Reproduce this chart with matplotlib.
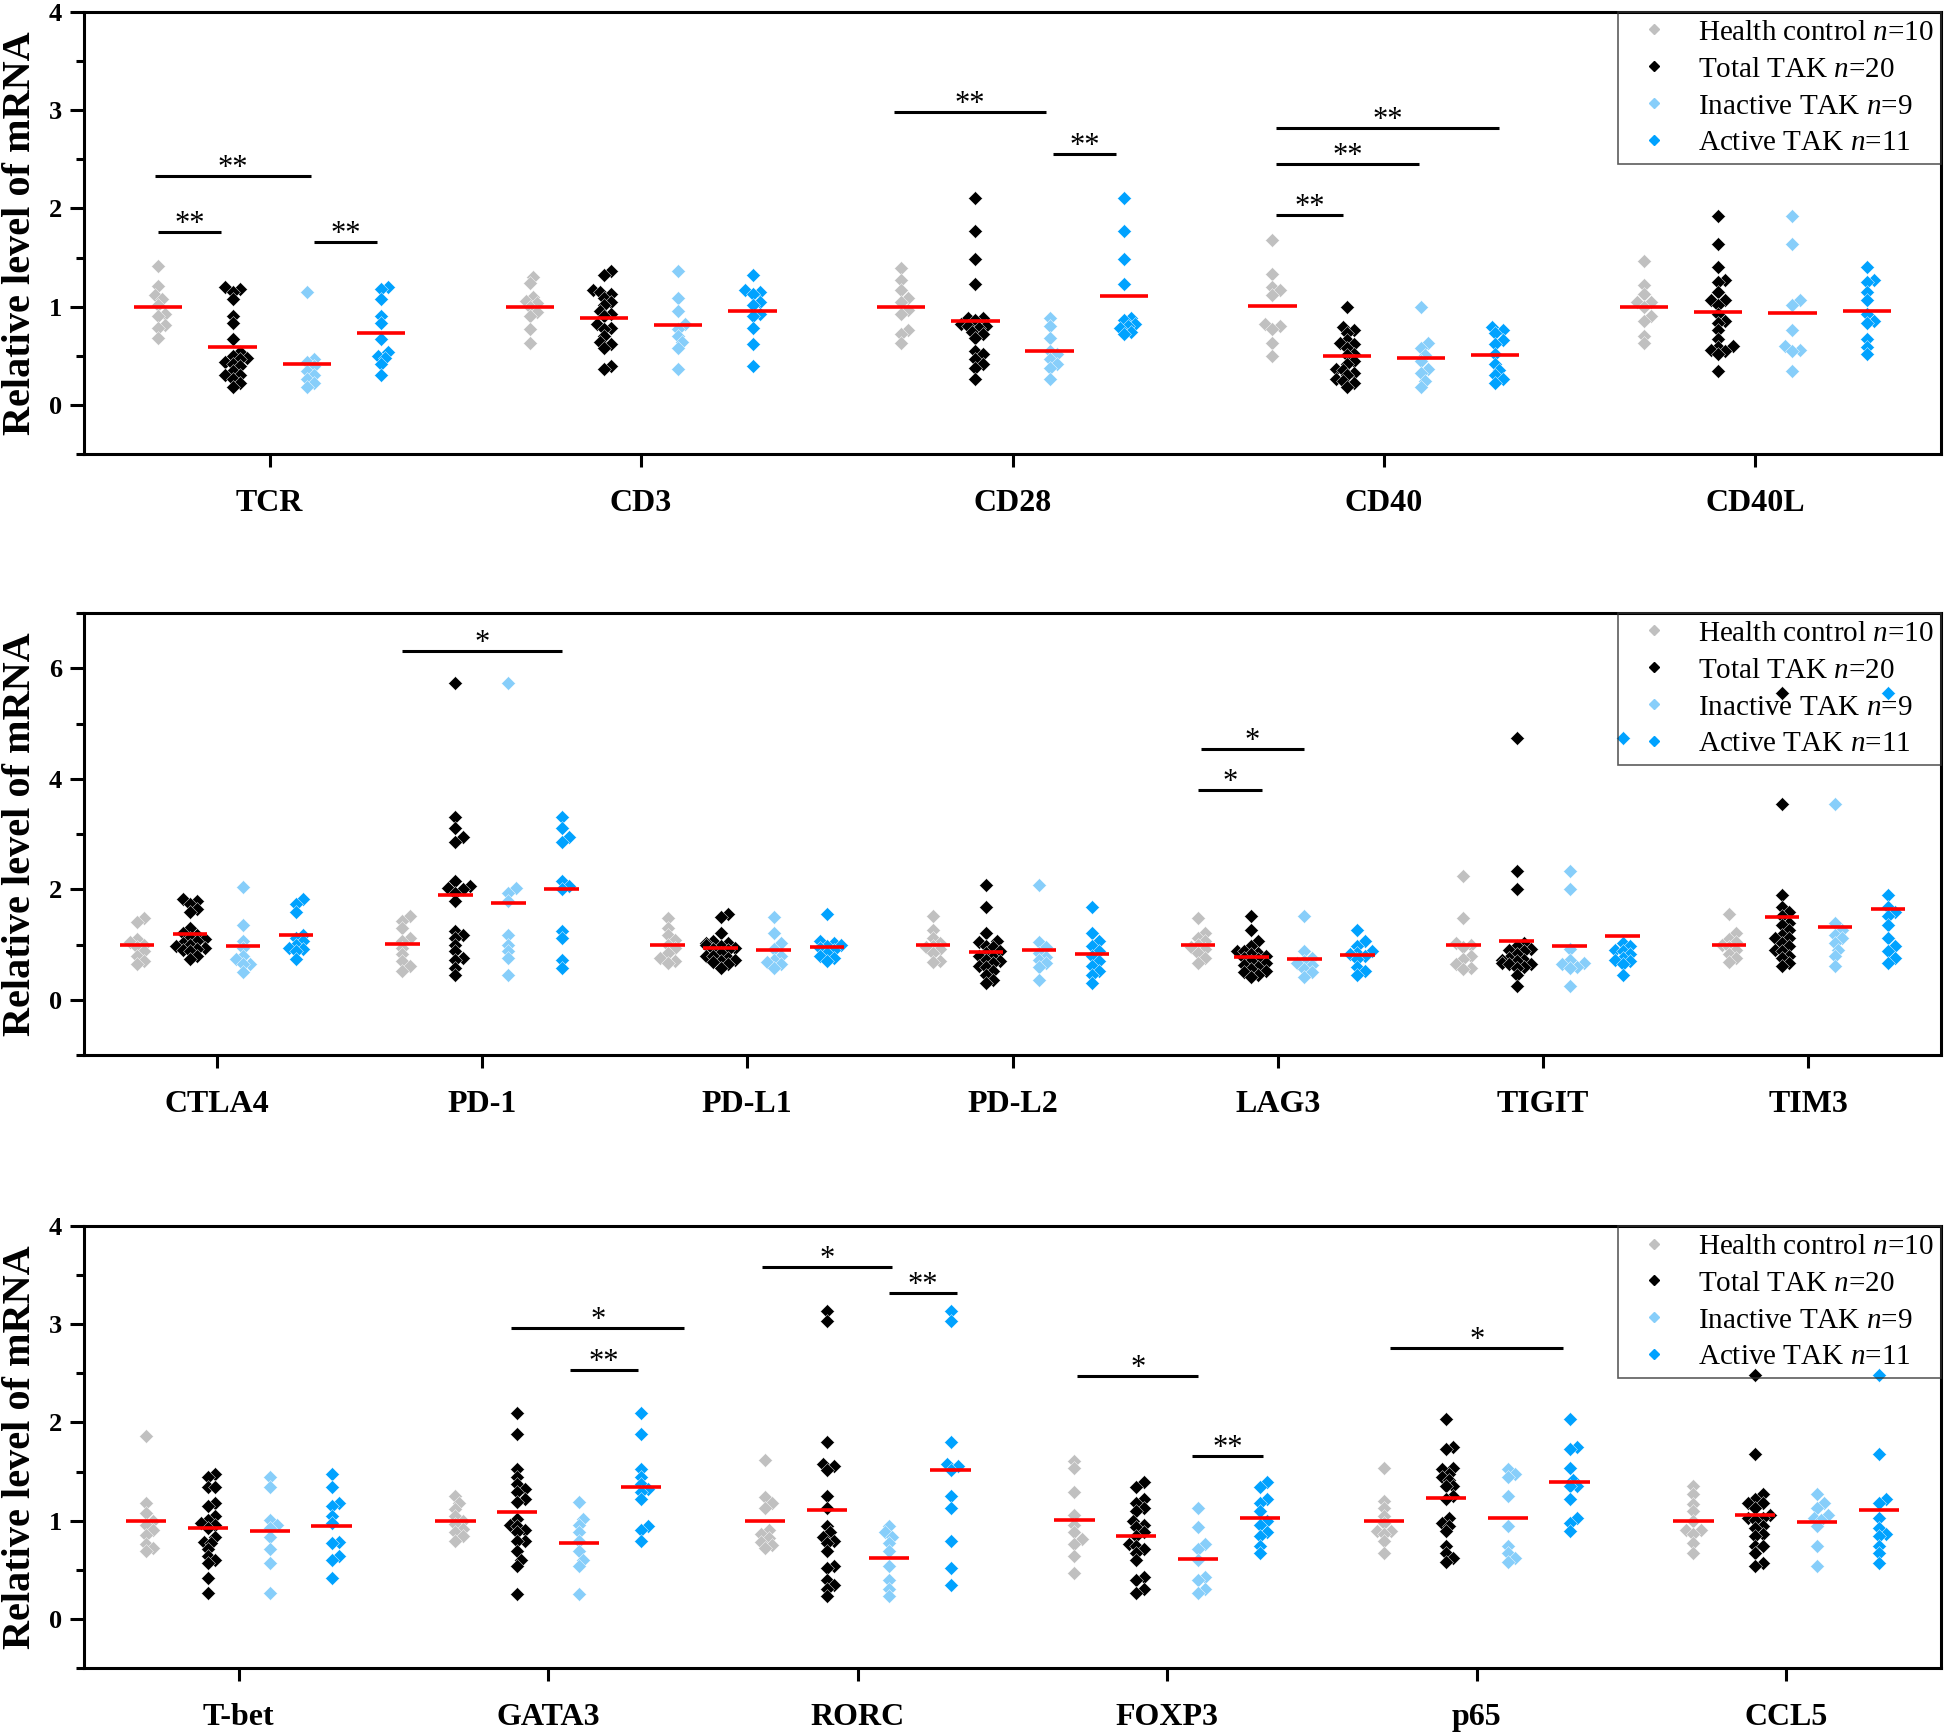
import numpy as np
import matplotlib
matplotlib.use('Agg')
import matplotlib.pyplot as plt
from matplotlib.ticker import MultipleLocator
from matplotlib.lines import Line2D

plt.rcParams['font.family'] = ['Liberation Serif', 'DejaVu Serif']
plt.rcParams['mathtext.fontset'] = 'custom'
plt.rcParams['mathtext.rm'] = 'Liberation Serif'
plt.rcParams['mathtext.it'] = 'Liberation Serif:italic'

# ---------------- data ----------------
group_names = ['Health control $n$=10', 'Total TAK $n$=20',
               'Inactive TAK $n$=9', 'Active TAK $n$=11']
group_colors = ['#c0c0c0', '#000000', '#87cefa', '#00a2ff']

# panel 1
genes1 = ['TCR', 'CD3', 'CD28', 'CD40', 'CD40L']
hc1 = [[1.41, 1.21, 1.12, 1.08, 1.02, 0.93, 0.90, 0.81, 0.78, 0.68],
       [1.30, 1.24, 1.10, 1.06, 1.04, 1.00, 0.95, 0.90, 0.77, 0.63],
       [1.39, 1.27, 1.17, 1.09, 1.05, 0.97, 0.93, 0.76, 0.72, 0.63],
       [1.68, 1.33, 1.20, 1.17, 1.12, 0.82, 0.80, 0.77, 0.63, 0.50],
       [1.47, 1.22, 1.13, 1.05, 1.05, 1.00, 0.90, 0.85, 0.70, 0.63]]
tot1 = [[1.20, 1.18, 1.15, 1.08, 0.90, 0.83, 0.67, 0.54, 0.50, 0.48,
         0.47, 0.44, 0.42, 0.40, 0.35, 0.30, 0.30, 0.26, 0.22, 0.18],
        [1.36, 1.32, 1.17, 1.15, 1.13, 1.09, 1.05, 1.02, 0.96, 0.93,
         0.90, 0.82, 0.78, 0.77, 0.70, 0.64, 0.62, 0.58, 0.40, 0.37],
        [2.11, 1.77, 1.49, 1.23, 0.88, 0.88, 0.86, 0.82, 0.80, 0.80,
         0.78, 0.74, 0.72, 0.68, 0.55, 0.52, 0.47, 0.42, 0.38, 0.26],
        [1.00, 0.79, 0.76, 0.73, 0.66, 0.63, 0.62, 0.58, 0.52, 0.51,
         0.45, 0.42, 0.37, 0.36, 0.32, 0.30, 0.26, 0.24, 0.22, 0.18],
        [1.92, 1.64, 1.40, 1.27, 1.25, 1.15, 1.07, 1.07, 1.02, 0.93,
         0.85, 0.83, 0.76, 0.67, 0.60, 0.59, 0.56, 0.55, 0.52, 0.34]]
ina1 = [[1.15, 0.47, 0.44, 0.40, 0.35, 0.30, 0.26, 0.22, 0.18],
        [1.36, 1.09, 0.96, 0.82, 0.77, 0.70, 0.64, 0.58, 0.37],
        [0.88, 0.80, 0.68, 0.55, 0.52, 0.47, 0.42, 0.38, 0.26],
        [1.00, 0.63, 0.58, 0.51, 0.45, 0.37, 0.32, 0.24, 0.18],
        [1.92, 1.64, 1.07, 1.02, 0.76, 0.60, 0.56, 0.55, 0.34]]
act1 = [[1.20, 1.18, 1.08, 0.90, 0.83, 0.67, 0.54, 0.50, 0.48, 0.42, 0.30],
        [1.32, 1.17, 1.15, 1.13, 1.05, 1.02, 0.93, 0.90, 0.78, 0.62, 0.40],
        [2.11, 1.77, 1.49, 1.23, 0.88, 0.86, 0.82, 0.80, 0.78, 0.74, 0.72],
        [0.79, 0.76, 0.73, 0.66, 0.62, 0.52, 0.42, 0.36, 0.30, 0.26, 0.22],
        [1.40, 1.27, 1.25, 1.15, 1.07, 0.93, 0.85, 0.83, 0.67, 0.59, 0.52]]
# (gene, x start, x end, height, label)
sig1 = [(0, -0.30, -0.13, 1.76, '**'), (0, -0.31, 0.11, 2.33, '**'),
        (0, 0.12, 0.29, 1.66, '**'), (2, -0.32, 0.09, 2.98, '**'),
        (2, 0.11, 0.28, 2.55, '**'), (3, -0.29, 0.31, 2.82, '**'),
        (3, -0.29, 0.095, 2.45, '**'), (3, -0.29, -0.11, 1.93, '**')]

# panel 2
genes2 = ['CTLA4', 'PD-1', 'PD-L1', 'PD-L2', 'LAG3', 'TIGIT', 'TIM3']
hc2 = [[1.48, 1.40, 1.10, 1.05, 1.00, 0.95, 0.88, 0.80, 0.70, 0.64],
       [1.52, 1.42, 1.30, 1.12, 1.06, 0.94, 0.82, 0.70, 0.61, 0.52],
       [1.48, 1.30, 1.18, 1.09, 1.00, 0.94, 0.85, 0.76, 0.70, 0.67],
       [1.52, 1.27, 1.12, 1.03, 0.97, 0.95, 0.91, 0.85, 0.70, 0.68],
       [1.48, 1.21, 1.12, 1.06, 1.00, 0.95, 0.91, 0.85, 0.76, 0.66],
       [2.24, 1.48, 1.03, 1.00, 0.95, 0.79, 0.73, 0.64, 0.58, 0.55],
       [1.55, 1.20, 1.10, 1.05, 1.00, 0.95, 0.90, 0.82, 0.75, 0.68]]
tot2 = [[1.83, 1.78, 1.73, 1.65, 1.58, 1.30, 1.20, 1.18, 1.12, 1.10,
         1.06, 1.02, 1.00, 0.97, 0.94, 0.92, 0.90, 0.88, 0.80, 0.73],
        [5.73, 3.30, 3.10, 2.95, 2.85, 2.15, 2.05, 2.03, 2.00, 1.94,
         1.79, 1.25, 1.18, 1.12, 1.00, 0.88, 0.76, 0.72, 0.58, 0.45],
        [1.56, 1.50, 1.20, 1.06, 1.03, 1.02, 1.00, 0.97, 0.94, 0.92,
         0.90, 0.85, 0.80, 0.80, 0.76, 0.72, 0.70, 0.68, 0.64, 0.58],
        [2.07, 1.67, 1.21, 1.06, 1.05, 0.97, 0.95, 0.88, 0.85, 0.79,
         0.78, 0.72, 0.70, 0.66, 0.61, 0.60, 0.52, 0.45, 0.36, 0.30],
        [1.52, 1.27, 1.06, 0.97, 0.88, 0.88, 0.85, 0.82, 0.80, 0.76,
         0.73, 0.70, 0.66, 0.62, 0.60, 0.56, 0.52, 0.50, 0.45, 0.42],
        [4.74, 2.33, 2.00, 1.03, 0.97, 0.91, 0.90, 0.88, 0.82, 0.76,
         0.72, 0.72, 0.70, 0.67, 0.65, 0.64, 0.60, 0.58, 0.45, 0.24],
        [5.55, 3.55, 1.89, 1.67, 1.58, 1.52, 1.39, 1.36, 1.27, 1.18,
         1.12, 1.12, 1.03, 0.97, 0.90, 0.88, 0.79, 0.76, 0.67, 0.61]]
ina2 = [[2.04, 1.36, 1.06, 0.94, 0.79, 0.73, 0.65, 0.64, 0.50],
        [5.73, 2.03, 1.94, 1.79, 1.18, 1.00, 0.88, 0.76, 0.45],
        [1.50, 1.20, 1.02, 0.92, 0.80, 0.72, 0.68, 0.64, 0.58],
        [2.07, 1.05, 0.95, 0.85, 0.78, 0.72, 0.66, 0.60, 0.36],
        [1.52, 0.88, 0.76, 0.70, 0.66, 0.62, 0.56, 0.50, 0.42],
        [2.33, 2.00, 0.91, 0.72, 0.67, 0.65, 0.60, 0.58, 0.24],
        [3.55, 1.39, 1.27, 1.18, 1.12, 1.03, 0.90, 0.79, 0.61]]
act2 = [[1.83, 1.73, 1.58, 1.18, 1.12, 1.06, 1.00, 0.94, 0.91, 0.88, 0.73],
        [3.30, 3.10, 2.95, 2.85, 2.15, 2.05, 2.00, 1.25, 1.12, 0.72, 0.58],
        [1.56, 1.06, 1.03, 1.00, 0.97, 0.94, 0.90, 0.85, 0.80, 0.76, 0.70],
        [1.67, 1.21, 1.06, 0.97, 0.88, 0.79, 0.70, 0.61, 0.52, 0.45, 0.30],
        [1.27, 1.06, 0.97, 0.88, 0.85, 0.82, 0.80, 0.73, 0.60, 0.52, 0.45],
        [4.74, 1.03, 0.97, 0.90, 0.88, 0.82, 0.76, 0.72, 0.70, 0.64, 0.45],
        [5.55, 1.89, 1.67, 1.58, 1.52, 1.36, 1.12, 0.97, 0.88, 0.76, 0.67]]
sig2 = [(1, -0.30, 0.30, 6.32, '*'), (4, -0.29, 0.10, 4.54, '*'),
        (4, -0.30, -0.06, 3.80, '*')]

# panel 3
genes3 = ['T-bet', 'GATA3', 'RORC', 'FOXP3', 'p65', 'CCL5']
hc3 = [[1.86, 1.18, 1.08, 1.00, 0.96, 0.90, 0.85, 0.76, 0.72, 0.69],
       [1.25, 1.18, 1.12, 1.05, 1.00, 0.97, 0.92, 0.88, 0.84, 0.79],
       [1.62, 1.24, 1.18, 1.13, 0.90, 0.86, 0.82, 0.78, 0.75, 0.72],
       [1.61, 1.54, 1.29, 1.06, 0.96, 0.88, 0.81, 0.76, 0.64, 0.47],
       [1.54, 1.20, 1.13, 1.05, 0.98, 0.89, 0.89, 0.86, 0.79, 0.67],
       [1.35, 1.27, 1.17, 1.10, 1.00, 0.91, 0.90, 0.86, 0.77, 0.67]]
tot3 = [[1.48, 1.44, 1.34, 1.34, 1.18, 1.15, 1.05, 1.01, 0.98, 0.96,
         0.93, 0.83, 0.78, 0.77, 0.71, 0.64, 0.60, 0.57, 0.42, 0.26],
        [2.10, 1.88, 1.53, 1.44, 1.37, 1.32, 1.29, 1.22, 1.19, 1.02,
         0.96, 0.95, 0.91, 0.88, 0.79, 0.79, 0.69, 0.60, 0.54, 0.25],
        [3.13, 3.03, 1.80, 1.58, 1.56, 1.52, 1.25, 1.13, 0.95, 0.88,
         0.83, 0.79, 0.77, 0.69, 0.54, 0.52, 0.40, 0.35, 0.30, 0.23],
        [1.39, 1.34, 1.22, 1.18, 1.13, 1.10, 1.00, 0.96, 0.94, 0.88,
         0.84, 0.76, 0.74, 0.71, 0.67, 0.60, 0.43, 0.40, 0.30, 0.26],
        [2.03, 1.75, 1.73, 1.54, 1.53, 1.48, 1.44, 1.41, 1.35, 1.35,
         1.25, 1.22, 1.03, 0.98, 0.95, 0.89, 0.74, 0.67, 0.62, 0.58],
        [2.48, 1.68, 1.27, 1.22, 1.18, 1.18, 1.13, 1.06, 1.03, 1.03,
         1.01, 0.95, 0.93, 0.86, 0.84, 0.74, 0.74, 0.67, 0.57, 0.54]]
ina3 = [[1.44, 1.34, 1.01, 0.96, 0.93, 0.83, 0.71, 0.57, 0.26],
        [1.19, 1.02, 0.96, 0.88, 0.79, 0.69, 0.60, 0.54, 0.25],
        [0.95, 0.88, 0.83, 0.77, 0.69, 0.54, 0.40, 0.30, 0.23],
        [1.13, 0.94, 0.76, 0.71, 0.60, 0.43, 0.40, 0.30, 0.26],
        [1.53, 1.48, 1.44, 1.25, 0.95, 0.74, 0.67, 0.62, 0.58],
        [1.27, 1.18, 1.13, 1.06, 1.03, 1.01, 0.95, 0.74, 0.54]]
act3 = [[1.48, 1.34, 1.18, 1.15, 1.05, 0.98, 0.78, 0.77, 0.64, 0.60, 0.42],
        [2.10, 1.88, 1.53, 1.44, 1.37, 1.32, 1.29, 1.22, 0.95, 0.91, 0.79],
        [3.13, 3.03, 1.80, 1.58, 1.56, 1.52, 1.25, 1.13, 0.79, 0.52, 0.35],
        [1.39, 1.34, 1.22, 1.18, 1.10, 1.00, 0.96, 0.88, 0.84, 0.74, 0.67],
        [2.03, 1.75, 1.73, 1.54, 1.41, 1.35, 1.35, 1.22, 1.03, 0.98, 0.89],
        [2.48, 1.68, 1.22, 1.18, 1.03, 0.93, 0.86, 0.84, 0.74, 0.67, 0.57]]
sig3 = [(1, -0.12, 0.44, 2.96, '*'), (1, 0.07, 0.29, 2.53, '**'),
        (2, -0.31, 0.11, 3.58, '*'), (2, 0.10, 0.32, 3.32, '**'),
        (3, -0.29, 0.10, 2.47, '*'), (3, 0.08, 0.31, 1.655, '**'),
        (4, -0.28, 0.28, 2.76, '*')]

# ---------------- figure ----------------
W, H = 1944, 1734
fig = plt.figure(figsize=(W / 100, H / 100), dpi=100)

group_offsets = [-0.3, -0.1, 0.1, 0.3]
marker_px = 12.0


def swarm(vals, sx, sy):
    # simple deterministic beeswarm, done in pixel space
    order = np.argsort(vals)
    placed = []
    offs = np.zeros(len(vals))
    steps = [0, 1, -1, 2, -2, 3, -3, 4, -4]
    for i in order:
        y = vals[i] * sy
        for k in steps:
            x = k * marker_px * 0.3
            ok = all((x - px) ** 2 + (y - py) ** 2 >= (marker_px * 0.55) ** 2
                     for px, py in placed)
            if ok:
                break
        offs[i] = x / sx
        placed.append((x, y))
    return offs


panels = [
    (genes1, [hc1, tot1, ina1, act1], sig1, (-0.5, 4), 1, 0.5,
     [84 / W, 1 - 454 / H, 1857 / W, 442 / H]),
    (genes2, [hc2, tot2, ina2, act2], sig2, (-1, 7), 2, 1,
     [84 / W, 1 - 1055 / H, 1857 / W, 442 / H]),
    (genes3, [hc3, tot3, ina3, act3], sig3, (-0.5, 4), 1, 0.5,
     [84 / W, 1 - 1668 / H, 1857 / W, 442 / H]),
]

for genes, groups, sig, ylim, major, minor, rect in panels:
    ax = fig.add_axes(rect)
    n = len(genes)
    ax.set_xlim(-0.5, n - 0.5)
    ax.set_ylim(*ylim)
    sx = rect[2] * W / n
    sy = rect[3] * H / (ylim[1] - ylim[0])

    for gi in range(n):
        for k, grp in enumerate(groups):
            vals = np.array(grp[gi])
            xc = gi + group_offsets[k]
            jit = swarm(vals, sx, sy)
            ax.scatter(xc + jit, vals, s=50, marker='D', color=group_colors[k],
                       edgecolors='white', linewidths=0.3, zorder=3)
            m = vals.mean()
            ax.plot([xc - 0.065, xc + 0.065], [m, m], color='#ff0000', lw=2.6,
                    solid_capstyle='butt', zorder=4)

    for gi, x1, x2, y, lab in sig:
        ax.plot([gi + x1, gi + x2], [y, y], color='black', lw=2.2,
                solid_capstyle='butt', zorder=4)
        ax.text(gi + (x1 + x2) / 2, y, lab, ha='center', va='baseline',
                fontsize=22, zorder=4)

    ax.set_xticks(range(n))
    ax.set_xticklabels(genes, fontsize=23, fontweight='bold')
    ax.yaxis.set_major_locator(MultipleLocator(major))
    ax.yaxis.set_minor_locator(MultipleLocator(minor))
    for lab in ax.get_yticklabels():
        lab.set_fontweight('bold')
    ax.tick_params(axis='y', which='major', direction='out', length=10,
                   width=2.2, pad=6, labelsize=19)
    ax.tick_params(axis='y', which='minor', direction='out', length=5.5,
                   width=2.2)
    ax.tick_params(axis='x', direction='out', length=9.5, width=2.2, pad=16)
    for sp in ax.spines.values():
        sp.set_linewidth(2.2)

    ax.set_ylabel('Relative level of mRNA', fontsize=29, fontweight='bold')
    ax.yaxis.set_label_coords(-0.024, 0.5)

    handles = [Line2D([], [], ls='none', marker='D', color=c,
                      markersize=5.0, label=lab)
               for c, lab in zip(group_colors, group_names)]
    leg = ax.legend(handles=handles, loc='upper right', borderaxespad=0,
                    fontsize=21, fancybox=False, edgecolor='#333333',
                    facecolor='none', borderpad=0.25, handlelength=2.0,
                    handletextpad=0.5, labelspacing=0.36)
    leg.get_frame().set_linewidth(1.2)

fig.savefig('out.png', dpi=100)
